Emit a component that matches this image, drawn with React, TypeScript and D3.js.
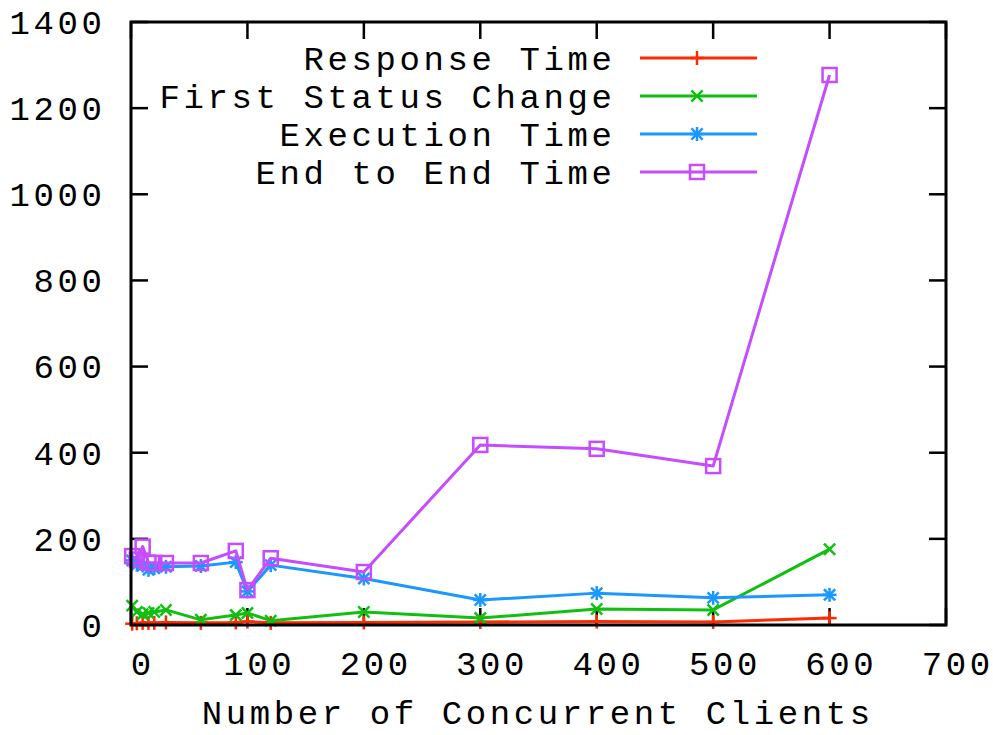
import React, { useEffect, useRef } from "react";
import * as d3 from "d3";

const xValues = [1, 5, 10, 15, 20, 30, 60, 90, 100, 120, 200, 300, 400, 500, 600];
const responseTime = [3, 4, 5, 5, 5, 6, 5, 6, 8, 5, 6, 7, 8, 7, 16];
const firstStatusChange = [45, 30, 25, 28, 30, 35, 12, 23, 28, 10, 30, 16, 37, 35, 176];
const executionTime = [150, 140, 138, 128, 132, 135, 137, 146, 78, 139, 108, 58, 74, 63, 70];
const endToEndTime = [160, 152, 182, 145, 144, 144, 144, 172, 81, 155, 123, 418, 409, 369, 1277];

const xTicks = [0, 100, 200, 300, 400, 500, 600, 700];
const yTicks = [0, 200, 400, 600, 800, 1000, 1200, 1400];

const seriesNames = ["Response Time", "First Status Change", "Execution Time", "End to End Time"];
const seriesColors = ["#ff2a00", "#10c010", "#1a98ff", "#c64cff"];
const seriesMarkers = ["plus", "cross", "star", "square"];
const seriesValues = [responseTime, firstStatusChange, executionTime, endToEndTime];
const xLabel = "Number of Concurrent Clients";

const W = 993;
const H = 735;
const L = 131, R = 946, T = 22, B = 625;
const FONT = "'Liberation Mono', 'DejaVu Sans Mono', monospace";
const FS = 34;
const LS = 3.6;

function drawMarker(g: any, type: string, cx: number, cy: number, color: string) {
  const s = 7;
  const sw = 2.5;
  if (type === "plus" || type === "star") {
    g.append("line").attr("x1", cx - s).attr("x2", cx + s).attr("y1", cy).attr("y2", cy).attr("stroke", color).attr("stroke-width", sw);
    g.append("line").attr("x1", cx).attr("x2", cx).attr("y1", cy - s).attr("y2", cy + s).attr("stroke", color).attr("stroke-width", sw);
  }
  if (type === "cross" || type === "star") {
    const d = s * 0.8;
    g.append("line").attr("x1", cx - d).attr("x2", cx + d).attr("y1", cy - d).attr("y2", cy + d).attr("stroke", color).attr("stroke-width", sw);
    g.append("line").attr("x1", cx - d).attr("x2", cx + d).attr("y1", cy + d).attr("y2", cy - d).attr("stroke", color).attr("stroke-width", sw);
  }
  if (type === "square") {
    g.append("rect").attr("x", cx - 7).attr("y", cy - 7).attr("width", 14).attr("height", 14)
      .attr("fill", "none").attr("stroke", color).attr("stroke-width", sw);
  }
}

export default function App() {
  const ref = useRef<SVGSVGElement | null>(null);
  useEffect(() => {
    const svg = d3.select(ref.current);
    svg.selectAll("*").remove();
    svg.append("rect").attr("width", W).attr("height", H).attr("fill", "#fff");

    const x = d3.scaleLinear().domain([0, 700]).range([L, R]);
    const y = d3.scaleLinear().domain([0, 1400]).range([B, T]);
    const tl = 17;

    const axes = svg.append("g");
    yTicks.forEach((t) => {
      axes.append("line").attr("x1", L).attr("x2", L + tl).attr("y1", y(t)).attr("y2", y(t)).attr("stroke", "#000").attr("stroke-width", 2.5);
      axes.append("line").attr("x1", R - tl).attr("x2", R).attr("y1", y(t)).attr("y2", y(t)).attr("stroke", "#000").attr("stroke-width", 2.5);
      axes.append("text").attr("x", 102 + LS).attr("y", y(t)).attr("dy", "0.35em").attr("text-anchor", "end")
        .attr("font-family", FONT).attr("font-size", FS).attr("letter-spacing", LS).attr("fill", "#000").text(String(t));
    });
    xTicks.forEach((t) => {
      axes.append("line").attr("x1", x(t)).attr("x2", x(t)).attr("y1", B).attr("y2", B - tl).attr("stroke", "#000").attr("stroke-width", 2.5);
      axes.append("line").attr("x1", x(t)).attr("x2", x(t)).attr("y1", T).attr("y2", T + tl).attr("stroke", "#000").attr("stroke-width", 2.5);
      axes.append("text").attr("x", x(t) + 10 + LS / 2).attr("y", 663).attr("dy", "0.35em").attr("text-anchor", "middle")
        .attr("font-family", FONT).attr("font-size", FS).attr("letter-spacing", LS).attr("fill", "#000").text(String(t));
    });

    axes.append("text").attr("x", 536 + LS / 2).attr("y", 712).attr("dy", "0.35em").attr("text-anchor", "middle")
      .attr("font-family", FONT).attr("font-size", FS).attr("letter-spacing", LS).attr("fill", "#000").text(xLabel);

    // legend
    const legendY = [58, 96, 134, 172];
    seriesNames.forEach((name, i) => {
      const lg = svg.append("g");
      lg.append("text").attr("x", 612 + LS).attr("y", legendY[i]).attr("dy", "0.35em").attr("text-anchor", "end")
        .attr("font-family", FONT).attr("font-size", FS).attr("letter-spacing", LS).attr("fill", "#000").text(name);
      lg.append("line").attr("x1", 640).attr("x2", 757).attr("y1", legendY[i]).attr("y2", legendY[i])
        .attr("stroke", seriesColors[i]).attr("stroke-width", 3);
      drawMarker(lg, seriesMarkers[i], 697, legendY[i], seriesColors[i]);
    });

    // series
    const line = d3.line<number>().x((_, j) => x(xValues[j])).y((v) => y(v));
    seriesValues.forEach((vals, i) => {
      const g = svg.append("g");
      g.append("path").attr("d", line(vals) as string).attr("fill", "none")
        .attr("stroke", seriesColors[i]).attr("stroke-width", 3).attr("stroke-linejoin", "round");
      vals.forEach((v, j) => drawMarker(g, seriesMarkers[i], x(xValues[j]), y(v), seriesColors[i]));
    });

    // frame
    svg.append("rect").attr("x", L).attr("y", T).attr("width", R - L).attr("height", B - T)
      .attr("fill", "none").attr("stroke", "#000").attr("stroke-width", 3);
  }, []);

  return (
    <svg ref={ref} width={W} height={H} style={{ position: "absolute", left: 0, top: 0, display: "block" }} />
  );
}
